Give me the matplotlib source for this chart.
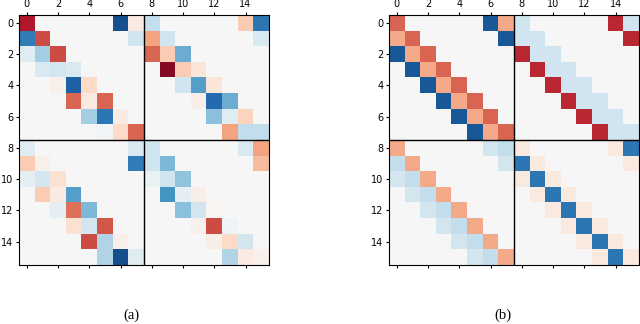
import numpy as np
import matplotlib
matplotlib.use('Agg')
import matplotlib.pyplot as plt

# Matrice (a): valori
mat_a = [
    [0.80, 0, 0, 0, 0, 0, -0.88, 0.08, -0.25, 0, 0, 0, 0, 0, 0.25, -0.72],
    [-0.70, 0.65, 0, 0, 0, 0, 0, -0.20, 0.40, -0.20, 0, 0, 0, 0, 0, -0.15],
    [-0.12, -0.35, 0.65, 0, 0, 0, 0, 0, 0.58, 0.25, -0.50, 0, 0, 0, 0, 0],
    [0, -0.15, -0.18, -0.15, 0, 0, 0, 0, 0, 0.92, 0.25, 0.12, 0, 0, 0, 0],
    [0, 0, 0.05, -0.82, 0.20, 0, 0, 0, 0, 0, -0.20, -0.55, 0.12, 0, 0, 0],
    [0, 0, 0, 0.58, 0.10, 0.58, 0, 0, 0, 0, 0, 0.06, -0.78, -0.50, 0, 0],
    [0, 0, 0, 0, -0.35, -0.72, 0.08, 0, 0, 0, 0, 0, -0.42, -0.12, 0.22, 0],
    [0, 0, 0, 0, 0, -0.03, 0.20, 0.58, 0, 0, 0, 0, 0, 0.40, -0.25, -0.25],
    [-0.12, 0, 0, 0, 0, 0, 0, -0.15, -0.20, 0, 0, 0, 0, 0, -0.15, 0.40],
    [0.25, 0.05, 0, 0, 0, 0, 0, -0.70, -0.20, -0.45, 0, 0, 0, 0, 0, 0.32],
    [-0.10, -0.18, 0.15, 0, 0, 0, 0, 0, -0.07, -0.20, -0.40, 0, 0, 0, 0, 0],
    [0, 0.25, 0.08, -0.55, 0, 0, 0, 0, 0, -0.60, -0.10, 0.07, 0, 0, 0, 0],
    [0, 0, -0.10, 0.55, -0.45, 0, 0, 0, 0, 0, -0.42, -0.18, 0.02, 0, 0, 0],
    [0, 0, 0, 0.15, -0.18, 0.62, 0, 0, 0, 0, 0, 0.04, 0.65, -0.04, 0, 0],
    [0, 0, 0, 0, 0.65, -0.30, 0.05, 0, 0, 0, 0, 0, 0.06, 0.20, -0.18, 0],
    [0, 0, 0, 0, 0, -0.30, -0.88, -0.12, 0, 0, 0, 0, 0, -0.30, 0.08, 0.05],
]

# Matrice (b)
mat_b = [
    [0.58, 0, 0, 0, 0, 0, -0.85, 0.38, -0.20, 0, 0, 0, 0, 0, 0.75, -0.20],
    [0.38, 0.58, 0, 0, 0, 0, 0, -0.85, -0.20, -0.20, 0, 0, 0, 0, 0, 0.75],
    [-0.85, 0.38, 0.58, 0, 0, 0, 0, 0, 0.75, -0.20, -0.20, 0, 0, 0, 0, 0],
    [0, -0.85, 0.38, 0.58, 0, 0, 0, 0, 0, 0.75, -0.20, -0.20, 0, 0, 0, 0],
    [0, 0, -0.85, 0.38, 0.58, 0, 0, 0, 0, 0, 0.75, -0.20, -0.20, 0, 0, 0],
    [0, 0, 0, -0.85, 0.38, 0.58, 0, 0, 0, 0, 0, 0.75, -0.20, -0.20, 0, 0],
    [0, 0, 0, 0, -0.85, 0.38, 0.58, 0, 0, 0, 0, 0, 0.75, -0.20, -0.20, 0],
    [0, 0, 0, 0, 0, -0.85, 0.38, 0.58, 0, 0, 0, 0, 0, 0.75, -0.20, -0.20],
    [0.38, 0, 0, 0, 0, 0, -0.18, -0.25, 0.10, 0, 0, 0, 0, 0, 0.10, -0.72],
    [-0.25, 0.38, 0, 0, 0, 0, 0, -0.18, -0.72, 0.10, 0, 0, 0, 0, 0, 0.10],
    [-0.18, -0.25, 0.38, 0, 0, 0, 0, 0, 0.10, -0.72, 0.10, 0, 0, 0, 0, 0],
    [0, -0.18, -0.25, 0.38, 0, 0, 0, 0, 0, 0.10, -0.72, 0.10, 0, 0, 0, 0],
    [0, 0, -0.18, -0.25, 0.38, 0, 0, 0, 0, 0, 0.10, -0.72, 0.10, 0, 0, 0],
    [0, 0, 0, -0.18, -0.25, 0.38, 0, 0, 0, 0, 0, 0.10, -0.72, 0.10, 0, 0],
    [0, 0, 0, 0, -0.18, -0.25, 0.38, 0, 0, 0, 0, 0, 0.10, -0.72, 0.10, 0],
    [0, 0, 0, 0, 0, -0.18, -0.25, 0.38, 0, 0, 0, 0, 0, 0.10, -0.72, 0.10],
]

ticks = list(range(0, 16, 2))
panel_labels = ['(a)', '(b)']


def draw(ax, mat):
    ax.imshow(np.array(mat), cmap='RdBu_r', vmin=-1, vmax=1,
              interpolation='nearest')
    ax.axhline(7.5, color='k', linewidth=1)
    ax.axvline(7.5, color='k', linewidth=1)
    ax.set_xticks(ticks)
    ax.set_yticks(ticks)
    ax.tick_params(top=True, labeltop=True, bottom=True, labelbottom=False,
                   labelsize=7, length=2.5, pad=1.5)


fig = plt.figure(figsize=(6.4, 3.24), dpi=100)
ax1 = fig.add_axes([0.0297, 0.182, 0.3906, 0.7716])
ax2 = fig.add_axes([0.608, 0.182, 0.3906, 0.7716])
draw(ax1, mat_a)
draw(ax2, mat_b)

fig.text(0.206, 0.028, panel_labels[0], ha='center', va='center',
         family='Liberation Serif', fontsize=10.5)
fig.text(0.786, 0.028, panel_labels[1], ha='center', va='center',
         family='Liberation Serif', fontsize=10.5)

fig.savefig('out.png', dpi=100)
